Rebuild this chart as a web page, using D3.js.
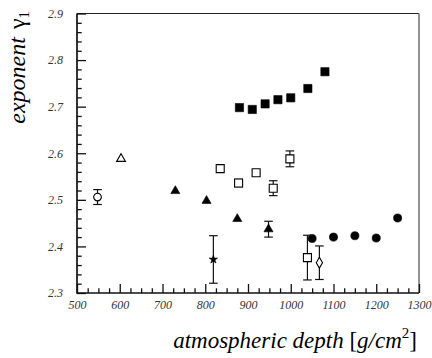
<!DOCTYPE html>
<html>
<head>
<meta charset="utf-8">
<script src="https://cdn.jsdelivr.net/npm/d3@7"></script>
<style>
  body { margin: 0; background: #fff; }
  svg { display: block; }
</style>
</head>
<body>
<svg id="chart" width="432" height="358"></svg>
<script>
"use strict";

// values
const filledSquareX = [880, 910, 940, 970, 1000, 1040, 1080];
const filledSquareY = [2.698, 2.694, 2.706, 2.715, 2.719, 2.739, 2.775];

const filledCircleX = [1050, 1100, 1150, 1200, 1250];
const filledCircleY = [2.417, 2.420, 2.423, 2.418, 2.461];

const openSquareX = [835, 878, 919, 959, 998, 1039];
const openSquareY = [2.567, 2.536, 2.558, 2.525, 2.588, 2.376];
const openSquareErr = [0, 0.008, 0, 0.016, 0.017, 0.048];

const filledTriangleX = [730, 803, 875, 948];
const filledTriangleY = [2.519, 2.498, 2.459, 2.437];
const filledTriangleErr = [0, 0, 0, 0.017];

const openTriangleX = [603];
const openTriangleY = [2.588];

const openCircleX = [548];
const openCircleY = [2.506];
const openCircleErr = [0.016];

const starX = [819];
const starY = [2.372];
const starErr = [0.051];

const diamondX = [1067];
const diamondY = [2.365];
const diamondErr = [0.036];

const xMajor = [500, 600, 700, 800, 900, 1000, 1100, 1200, 1300];
const yMajor = [2.3, 2.4, 2.5, 2.6, 2.7, 2.8, 2.9];

const serif = '"Liberation Serif", "Times New Roman", serif';

function translate(x, y) {
  return "translate(" + x + "," + y + ")";
}

const svg = d3.select("#chart");
const mLeft = 77, mRight = 419, mTop = 13.5, mBottom = 293;

const x = d3.scaleLinear().domain([500, 1300]).range([mLeft, mRight]);
const y = d3.scaleLinear().domain([2.3, 2.9]).range([mBottom, mTop]);

// frame: top and right are thin, left and bottom are the axes
svg.append("line")
  .attr("x1", mLeft).attr("x2", mRight).attr("y1", mTop).attr("y2", mTop)
  .attr("stroke", "#222").attr("stroke-width", 1.2);
svg.append("line")
  .attr("x1", mRight).attr("x2", mRight).attr("y1", mTop).attr("y2", mBottom)
  .attr("stroke", "#777").attr("stroke-width", 1.6);

// minor ticks
let xMinor = d3.range(500, 1301, 25).filter(v => v % 100 !== 0);
let yMinor = d3.range(0, 31).map(i => +(2.3 + i * 0.02).toFixed(2))
  .filter(v => Math.abs(v * 10 - Math.round(v * 10)) > 1e-6);

svg.append("g")
  .attr("transform", translate(0, mBottom))
  .call(d3.axisBottom(x).tickValues(xMinor).tickSize(-4.7).tickSizeOuter(0).tickFormat(""))
  .call(g => g.select(".domain").remove())
  .selectAll("line").attr("stroke", "#111").attr("stroke-width", 1.3);

svg.append("g")
  .attr("transform", translate(mLeft, 0))
  .call(d3.axisLeft(y).tickValues(yMinor).tickSize(-4.7).tickSizeOuter(0).tickFormat(""))
  .call(g => g.select(".domain").remove())
  .selectAll("line").attr("stroke", "#111").attr("stroke-width", 1.3);

// major ticks + labels
let xAxis = svg.append("g")
  .attr("transform", translate(0, mBottom))
  .call(d3.axisBottom(x).tickValues(xMajor).tickSize(-9).tickSizeOuter(0)
    .tickPadding(7.5).tickFormat(d3.format("d")));
xAxis.select(".domain").remove();
xAxis.selectAll("line").attr("stroke", "#111").attr("stroke-width", 1.3);
xAxis.selectAll("text")
  .style("font-family", serif)
  .style("font-style", "italic").style("font-size", "12px").attr("fill", "#333");

let yAxis = svg.append("g")
  .attr("transform", translate(mLeft, 0))
  .call(d3.axisLeft(y).tickValues(yMajor).tickSize(-9).tickSizeOuter(0)
    .tickPadding(14).tickFormat(d3.format(".1f")));
yAxis.select(".domain").remove();
yAxis.selectAll("line").attr("stroke", "#111").attr("stroke-width", 1.3);
yAxis.selectAll("text")
  .style("font-family", serif)
  .style("font-style", "italic").style("font-size", "12px").attr("fill", "#333");

// axis lines
svg.append("line")
  .attr("x1", mLeft).attr("x2", mLeft).attr("y1", mTop).attr("y2", mBottom + 0.8)
  .attr("stroke", "#111").attr("stroke-width", 1.7);
svg.append("line")
  .attr("x1", mLeft).attr("x2", mRight).attr("y1", mBottom).attr("y2", mBottom)
  .attr("stroke", "#111").attr("stroke-width", 1.7);

// axis titles
svg.append("text")
  .attr("transform", translate(25, 11) + " rotate(-90)")
  .attr("text-anchor", "end")
  .style("font-family", serif)
  .style("font-size", "24px")
  .call(t => {
    t.append("tspan").style("font-style", "italic").text("exponent ");
    t.append("tspan").attr("dx", 2).text("\u03B3");
    t.append("tspan").style("font-size", "15px").attr("dy", 4).text("1");
  });

svg.append("text")
  .attr("x", 417).attr("y", 348)
  .attr("text-anchor", "end")
  .style("font-family", serif)
  .style("font-size", "23px")
  .call(t => {
    t.append("tspan").style("font-style", "italic").text("atmospheric depth ");
    t.append("tspan").text("[");
    t.append("tspan").style("font-style", "italic").text("g/cm");
    t.append("tspan").style("font-size", "15px").attr("dy", -10).text("2");
    t.append("tspan").attr("dy", 10).text("]");
  });

// series
function zip(xs, ys, es) {
  return xs.map((v, i) => ({ x: v, y: ys[i], e: es ? es[i] : 0 }));
}

function errorBars(data) {
  let g = svg.append("g").attr("stroke", "#111").attr("stroke-width", 1.2);
  let withErr = data.filter(d => d.e > 0);
  g.selectAll(".bar").data(withErr).enter().append("line")
    .attr("x1", d => x(d.x)).attr("x2", d => x(d.x))
    .attr("y1", d => y(d.y - d.e)).attr("y2", d => y(d.y + d.e));
  [-1, 1].forEach(s => {
    g.selectAll(".cap" + s).data(withErr).enter().append("line")
      .attr("x1", d => x(d.x) - 4.3).attr("x2", d => x(d.x) + 4.3)
      .attr("y1", d => y(d.y + s * d.e)).attr("y2", d => y(d.y + s * d.e));
  });
}

function series(xs, ys, es, type, size, filled) {
  let data = zip(xs, ys, es);
  errorBars(data);
  svg.append("g").selectAll("path").data(data).enter().append("path")
    .attr("transform", d => translate(x(d.x), y(d.y)))
    .attr("d", d3.symbol().type(type).size(size))
    .attr("fill", filled ? "#000" : "#fff")
    .attr("stroke", "#000")
    .attr("stroke-width", filled ? 0.6 : 1.1);
}

series(filledSquareX, filledSquareY, null, d3.symbolSquare, 68, true);
series(filledCircleX, filledCircleY, null, d3.symbolCircle, 52, true);
series(openSquareX, openSquareY, openSquareErr, d3.symbolSquare, 64, false);
series(filledTriangleX, filledTriangleY, filledTriangleErr, d3.symbolTriangle, 36, true);
series(openTriangleX, openTriangleY, null, d3.symbolTriangle, 34, false);
series(openCircleX, openCircleY, openCircleErr, d3.symbolCircle, 46, false);
series(starX, starY, starErr, d3.symbolStar, 22, true);
series(diamondX, diamondY, diamondErr, d3.symbolDiamond, 34, false);
</script>
</body>
</html>
